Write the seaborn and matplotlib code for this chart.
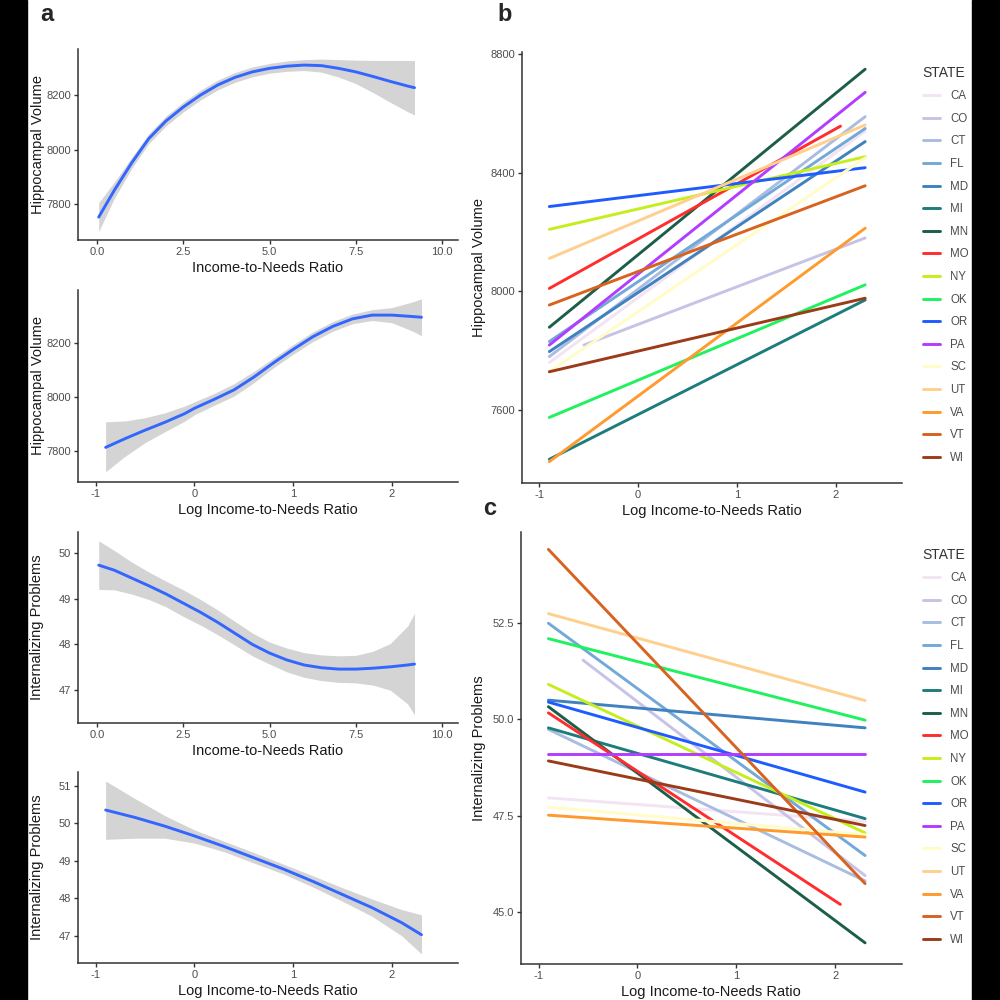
import numpy as np
import pandas as pd
import matplotlib
matplotlib.use("Agg")
import matplotlib.pyplot as plt
from matplotlib.patches import Rectangle
from matplotlib.transforms import blended_transform_factory
import seaborn as sns

# ---------------- data ----------------
# panel a1: Income-to-Needs vs Hippocampal Volume (loess)
a1_x = [0.05, 0.5, 1, 1.5, 2, 2.5, 3, 3.5, 4, 4.5, 5, 5.5, 6, 6.5, 7, 7.5, 8, 8.5, 9, 9.2]
a1_fit = [7752, 7850, 7950, 8040, 8105, 8156, 8200, 8237, 8265, 8285, 8298, 8306, 8310, 8308, 8298, 8285, 8268, 8250, 8233, 8227]
a1_hi = [7805, 7880, 7970, 8058, 8123, 8174, 8218, 8255, 8283, 8303, 8316, 8325, 8330, 8332, 8330, 8328, 8327, 8327, 8327, 8327]
a1_lo = [7699, 7820, 7930, 8022, 8087, 8138, 8182, 8219, 8247, 8267, 8280, 8287, 8290, 8284, 8266, 8242, 8209, 8173, 8139, 8127]

# panel a2: Log Income-to-Needs vs Hippocampal Volume
a2_x = [-0.9, -0.7, -0.5, -0.3, -0.1, 0, 0.2, 0.4, 0.6, 0.8, 1.0, 1.2, 1.4, 1.6, 1.8, 2.0, 2.2, 2.3]
a2_fit = [7812, 7845, 7876, 7905, 7937, 7957, 7990, 8025, 8072, 8125, 8175, 8222, 8260, 8288, 8302, 8302, 8297, 8294]
a2_hi = [7907, 7910, 7922, 7940, 7965, 7981, 8012, 8048, 8093, 8143, 8193, 8240, 8278, 8306, 8322, 8330, 8350, 8362]
a2_lo = [7722, 7780, 7830, 7870, 7909, 7933, 7968, 8002, 8051, 8107, 8157, 8204, 8242, 8270, 8282, 8274, 8244, 8226]

# panel a3: Income-to-Needs vs Internalizing Problems
a3_x = [0.05, 0.5, 1, 1.5, 2, 2.5, 3, 3.5, 4, 4.5, 5, 5.5, 6, 6.5, 7, 7.5, 8, 8.5, 9, 9.2]
a3_fit = [49.73, 49.62, 49.45, 49.28, 49.10, 48.90, 48.70, 48.48, 48.24, 48.00, 47.81, 47.66, 47.55, 47.49, 47.46, 47.46, 47.48, 47.51, 47.55, 47.57]
a3_hi = [50.26, 50.05, 49.80, 49.58, 49.38, 49.19, 48.98, 48.75, 48.50, 48.25, 48.05, 47.92, 47.82, 47.77, 47.75, 47.76, 47.85, 48.02, 48.40, 48.68]
a3_lo = [49.20, 49.19, 49.10, 48.98, 48.82, 48.61, 48.42, 48.21, 47.98, 47.75, 47.57, 47.40, 47.28, 47.21, 47.17, 47.16, 47.11, 47.00, 46.70, 46.46]

# panel a4: Log Income-to-Needs vs Internalizing Problems
a4_x = [-0.9, -0.6, -0.3, 0, 0.3, 0.6, 0.9, 1.2, 1.5, 1.8, 2.1, 2.3]
a4_fit = [50.35, 50.15, 49.92, 49.66, 49.38, 49.08, 48.78, 48.45, 48.10, 47.75, 47.35, 47.03]
a4_hi = [51.12, 50.65, 50.20, 49.82, 49.52, 49.22, 48.91, 48.60, 48.28, 47.98, 47.70, 47.56]
a4_lo = [49.57, 49.60, 49.60, 49.47, 49.24, 48.94, 48.65, 48.30, 47.92, 47.52, 47.00, 46.52]

# panels b, c: per-state regression lines
states = ["CA", "CO", "CT", "FL", "MD", "MI", "MN", "MO", "NY", "OK", "OR", "PA", "SC", "UT", "VA", "VT", "WI"]
state_colors = ["#f3e4f3", "#c6c3e6", "#a9bde0", "#72a9d8", "#3f82bf", "#1d7c7c", "#1c5e48", "#ff2d2d",
                "#c6ee1c", "#1ff25e", "#1f5cff", "#b23cff", "#fffcc8", "#ffcf8e", "#ff9a2e", "#d8621f", "#9b3b17"]
x_start = [-0.9, -0.55, -0.9, -0.9, -0.9, -0.9, -0.9, -0.9, -0.9, -0.9, -0.9, -0.9, -0.9, -0.9, -0.9, -0.9, -0.9]
x_end = [2.3, 2.3, 2.3, 2.3, 2.3, 2.3, 2.3, 2.05, 2.3, 2.3, 2.3, 2.3, 2.3, 2.3, 2.3, 2.3, 2.3]

b_start = [7760, 7819, 7780, 7831, 7797, 7434, 7879, 8010, 8209, 7575, 8286, 7819, 7729, 8111, 7426, 7954, 7729]
b_end = [8540, 8180, 8589, 8549, 8505, 7971, 8749, 8557, 8454, 8022, 8417, 8671, 8450, 8561, 8213, 8356, 7977]

c_start = [47.96, 51.54, 49.74, 52.50, 50.50, 49.78, 50.33, 50.17, 50.91, 52.10, 50.45, 49.11, 47.72, 52.75, 47.51, 54.42, 48.92]
c_end = [47.35, 45.94, 45.80, 46.46, 49.78, 47.42, 44.19, 45.19, 47.05, 49.98, 48.11, 49.11, 47.00, 50.49, 46.94, 45.73, 47.24]

# ---------------- style ----------------
sns.set_style("ticks")
plt.rcParams["font.family"] = ["Liberation Sans", "DejaVu Sans"]
TICKC = "#4d4d4d"
SPINEC = "#333333"

fig = plt.figure(figsize=(10, 10), dpi=100)
fig.patches.append(Rectangle((0, 0), 0.027, 1, transform=fig.transFigure, color="black", zorder=0))
fig.patches.append(Rectangle((0.972, 0), 0.028, 1, transform=fig.transFigure, color="black", zorder=0))


def style_ax(ax, xlim, ylim, xticks, xticklabels, yticks, yticklabels, xlabel, ylabel, ylab_x):
    ax.set_xlim(*xlim)
    ax.set_ylim(*ylim)
    ax.set_xticks(xticks)
    ax.set_xticklabels(xticklabels)
    ax.set_yticks(yticks)
    ax.set_yticklabels(yticklabels)
    ax.set_xlabel(xlabel, fontsize=10.5, color="#1a1a1a", labelpad=3)
    ax.set_ylabel(ylabel, fontsize=10.5, color="#1a1a1a")
    ax.yaxis.set_label_coords(ylab_x, 0.5,
                              transform=blended_transform_factory(fig.transFigure, ax.transAxes))
    ax.tick_params(axis="both", colors=SPINEC, labelcolor=TICKC, labelsize=8, length=3, width=1, pad=2)
    for s in ["top", "right"]:
        ax.spines[s].set_visible(False)
    for s in ["left", "bottom"]:
        ax.spines[s].set_color(SPINEC)
        ax.spines[s].set_linewidth(1.1)
    ax.set_facecolor("white")


def smooth_panel(rect, x, fit, lo, hi, xlim, ylim, xticks, xtl, yticks, ytl, xlabel, ylabel, ylab_x):
    ax = fig.add_axes(rect)
    ax.fill_between(x, lo, hi, color="#d4d4d4", lw=0, zorder=1)
    sns.lineplot(x=x, y=fit, ax=ax, color="#3366FF", lw=2.1, zorder=2)
    style_ax(ax, xlim, ylim, xticks, xtl, yticks, ytl, xlabel, ylabel, ylab_x)
    return ax


lin_ticks = [0, 2.5, 5, 7.5, 10]
lin_tl = ["0.0", "2.5", "5.0", "7.5", "10.0"]
log_ticks = [-1, 0, 1, 2]
log_tl = ["-1", "0", "1", "2"]

smooth_panel([0.078, 0.760, 0.380, 0.191], a1_x, a1_fit, a1_lo, a1_hi,
             (-0.55, 10.46), (7668, 8369), lin_ticks, lin_tl,
             [7800, 8000, 8200], ["7800", "8000", "8200"],
             "Income-to-Needs Ratio", "Hippocampal Volume", 0.045)
smooth_panel([0.078, 0.5183, 0.380, 0.1917], a2_x, a2_fit, a2_lo, a2_hi,
             (-1.18, 2.67), (7685, 8395), log_ticks, log_tl,
             [7800, 8000, 8200], ["7800", "8000", "8200"],
             "Log Income-to-Needs Ratio", "Hippocampal Volume", 0.045)
smooth_panel([0.078, 0.2773, 0.380, 0.191], a3_x, a3_fit, a3_lo, a3_hi,
             (-0.55, 10.46), (46.29, 50.46), lin_ticks, lin_tl,
             [47, 48, 49, 50], ["47", "48", "49", "50"],
             "Income-to-Needs Ratio", "Internalizing Problems", 0.044)
smooth_panel([0.078, 0.0367, 0.380, 0.1916], a4_x, a4_fit, a4_lo, a4_hi,
             (-1.18, 2.67), (46.27, 51.37), log_ticks, log_tl,
             [47, 48, 49, 50, 51], ["47", "48", "49", "50", "51"],
             "Log Income-to-Needs Ratio", "Internalizing Problems", 0.044)

palette = dict(zip(states, state_colors))


def state_panel(rect, ystart, yend, ylim, yticks, ytl, ylabel, leg_anchor):
    ax = fig.add_axes(rect)
    rows = []
    for s, xs, xe, ys, ye in zip(states, x_start, x_end, ystart, yend):
        rows.append({"STATE": s, "x": xs, "y": ys})
        rows.append({"STATE": s, "x": xe, "y": ye})
    df = pd.DataFrame(rows)
    sns.lineplot(data=df, x="x", y="y", hue="STATE", hue_order=states, palette=palette,
                 ax=ax, lw=2.1, estimator=None, sort=False)
    style_ax(ax, (-1.18, 2.67), ylim, log_ticks, log_tl, yticks, ytl,
             "Log Income-to-Needs Ratio", ylabel, 0.486)
    handles, labels = ax.get_legend_handles_labels()
    leg = ax.legend(handles, labels, title="STATE", loc="upper left",
                    bbox_to_anchor=leg_anchor, bbox_transform=fig.transFigure,
                    frameon=False, fontsize=8.3, title_fontsize=10,
                    handlelength=1.5, handletextpad=0.9, labelspacing=0.92,
                    borderaxespad=0, alignment="left")
    for t in leg.get_texts():
        t.set_color(TICKC)
    leg.get_title().set_color("#333333")
    for h in leg.legend_handles:
        h.set_linewidth(2.1)
    return ax


state_panel([0.5217, 0.5173, 0.380, 0.431], b_start, b_end, (7355, 8808),
            [7600, 8000, 8400, 8800], ["7600", "8000", "8400", "8800"],
            "Hippocampal Volume", (0.918, 0.939))
state_panel([0.5207, 0.036, 0.381, 0.4323], c_start, c_end, (43.64, 54.88),
            [45.0, 47.5, 50.0, 52.5], ["45.0", "47.5", "50.0", "52.5"],
            "Internalizing Problems", (0.918, 0.457))

fig.text(0.040, 0.997, "a", fontsize=17, fontweight="bold", va="top", ha="left")
fig.text(0.497, 0.997, "b", fontsize=17, fontweight="bold", va="top", ha="left")
fig.text(0.483, 0.503, "c", fontsize=17, fontweight="bold", va="top", ha="left")

fig.savefig("out.png", dpi=100, facecolor="white")
